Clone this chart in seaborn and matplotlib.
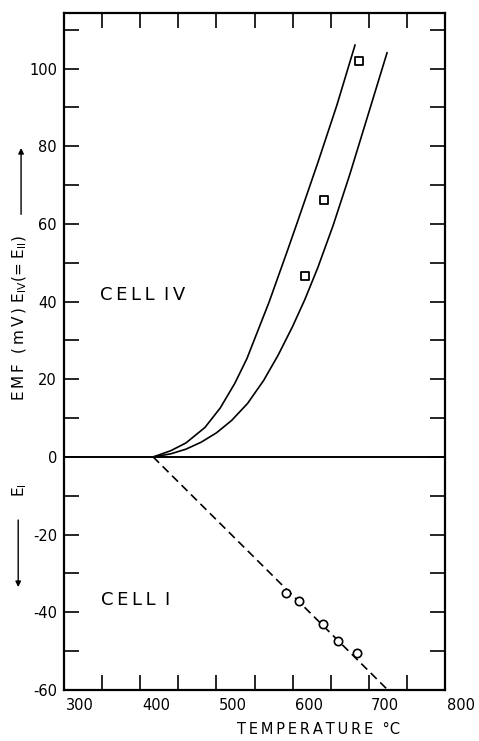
import numpy as np
import pandas as pd
import matplotlib
matplotlib.use('Agg')
import matplotlib.pyplot as plt
import matplotlib.transforms as mtransforms
from matplotlib.ticker import MultipleLocator
import seaborn as sns

# Curvas de la celda IV
left_T = [417, 440, 460, 485, 505, 524, 540, 569, 593, 606, 633, 658, 682]
left_E = [0, 1.6, 3.6, 7.6, 12.6, 18.9, 25.3, 39.8, 53.0, 60.3, 75.7, 90.5, 106.1]
right_T = [417, 440, 460, 480, 500, 520, 541, 562, 581, 600, 616, 633, 653, 675, 700, 724]
right_E = [0, 0.8, 2.0, 3.8, 6.2, 9.4, 13.8, 19.7, 26.2, 33.6, 40.5, 48.7, 59.5, 72.7, 88.7, 104.1]

# Puntos experimentales
sq_T = [616, 641, 687]
sq_E = [46.6, 66.1, 101.9]
circ_T = [591, 608, 640, 660, 685]
circ_E = [-35.0, -37.1, -43.0, -47.3, -50.4]

# Recta de la celda I
dash_T = [417, 725]
dash_E = [0, -60]

sns.set_style('ticks')
plt.rcParams['font.family'] = ['DejaVu Sans']
plt.rcParams['axes.unicode_minus'] = False
plt.rcParams['text.color'] = 'black'
plt.rcParams['xtick.color'] = 'black'
plt.rcParams['ytick.color'] = 'black'
plt.rcParams['axes.labelcolor'] = 'black'

fig = plt.figure(figsize=(4.79, 7.41), dpi=100)
ax = fig.add_axes([64/479, 1-690/741, 381/479, 677/741])

sns.lineplot(x=left_T, y=left_E, ax=ax, color='black', lw=1.2, sort=False)
sns.lineplot(x=right_T, y=right_E, ax=ax, color='black', lw=1.2, sort=False)
sns.lineplot(x=dash_T, y=dash_E, ax=ax, color='black', lw=1.2, linestyle=(0, (5, 3)), sort=False)
ax.axhline(0, color='black', lw=1.4)

sns.scatterplot(x=sq_T, y=sq_E, ax=ax, marker='s', s=28, facecolor='white',
                edgecolor='black', linewidth=1.3, zorder=5)
sns.scatterplot(x=circ_T, y=circ_E, ax=ax, marker='o', s=36, facecolor='white',
                edgecolor='black', linewidth=1.2, zorder=5)

ax.set_xlim(300, 800)
ax.set_ylim(-60, 114.3)
ax.xaxis.set_major_locator(MultipleLocator(100))
ax.xaxis.set_minor_locator(MultipleLocator(50))
ax.yaxis.set_major_locator(MultipleLocator(20))
ax.yaxis.set_minor_locator(MultipleLocator(10))
ax.tick_params(which='both', direction='in', top=True, right=True,
               length=11, width=1.2, color='black')
ax.tick_params(axis='x', which='major', labelsize=10.5, pad=6)
ax.tick_params(axis='y', which='major', labelsize=10.5, pad=5)
for sp in ax.spines.values():
    sp.set_linewidth(1.6)
    sp.set_color('black')

# etiquetas del eje x desplazadas como en el original
offset = mtransforms.ScaledTranslation(16/100, 0, fig.dpi_scale_trans)
for lab in ax.get_xticklabels():
    lab.set_transform(lab.get_transform() + offset)

ts = '\u2009'
ax.set_xlabel(ts.join('TEMPERATURE') + '  °C', fontsize=10.5)
ax.xaxis.set_label_coords(0.669, -0.047)
ax.set_ylabel('')

ax.text(347, 41.7, 'C\u2009E\u2009L\u2009L\u2009 I\u2009V', fontsize=13, va='center', ha='left')
ax.text(349, -36.8, 'C\u2009E\u2009L\u2009L\u2009 I', fontsize=13, va='center', ha='left')

ylab = ts.join('EMF') + '  (' + ts + 'm' + ts + 'V' + ts + ') ' + r'E$_{\mathrm{IV}}$(= E$_{\mathrm{II}}$)'
fig.text(0.042, 0.571, ylab, rotation=90, fontsize=11, ha='center', va='center')
fig.text(0.040, 0.339, r'E$_{\mathrm{I}}$', rotation=90, fontsize=11, ha='center', va='center')

ax.annotate('', xy=(0.044, 0.804), xytext=(0.044, 0.707), xycoords='figure fraction',
            arrowprops=dict(arrowstyle='-|>', color='black', lw=1.0, mutation_scale=8))
ax.annotate('', xy=(0.038, 0.204), xytext=(0.038, 0.302), xycoords='figure fraction',
            arrowprops=dict(arrowstyle='-|>', color='black', lw=1.0, mutation_scale=8))

fig.savefig('out.png', dpi=100)
